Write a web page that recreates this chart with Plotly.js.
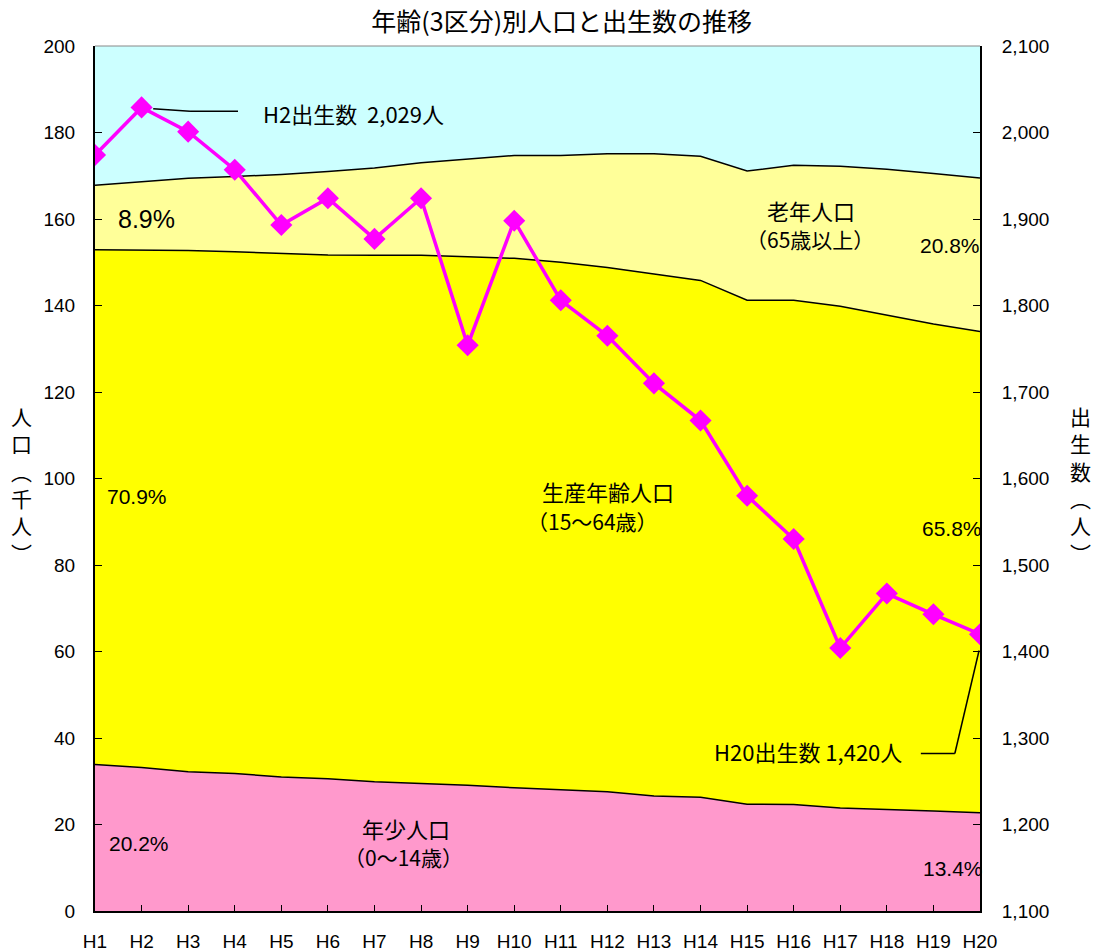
<!DOCTYPE html>
<html>
<head>
<meta charset="utf-8">
<script src="https://cdn.plot.ly/plotly-3.0.1.min.js"></script>
<style>
html,body{margin:0;padding:0;background:#fff;}
#chart{width:1095px;height:952px;}
</style>
</head>
<body>
<div id="chart"></div>
<script>
// Categories (fiscal years, Heisei)
const years = ["H1","H2","H3","H4","H5","H6","H7","H8","H9","H10","H11","H12","H13","H14","H15","H16","H17","H18","H19","H20"];
// Population (thousand persons)
const youngPop   = [33.9,33.2,32.2,31.8,31.0,30.6,29.9,29.5,29.1,28.5,28.0,27.6,26.6,26.3,24.7,24.6,23.8,23.5,23.1,22.7];
const workingPop = [119.0,119.6,120.5,120.6,121.0,121.1,121.7,122.1,122.2,122.4,122.0,121.2,120.7,119.5,116.5,116.6,116.0,114.2,112.6,111.3];
const elderlyPop = [14.9,15.8,16.7,17.4,18.3,19.3,20.2,21.4,22.6,23.8,24.7,26.3,27.8,28.7,29.9,31.2,32.4,33.8,34.8,35.5];
// Births (persons)
const births = [1974,2029,2001,1957,1893,1924,1877,1924,1754,1898,1806,1765,1710,1667,1580,1530,1404,1467,1443,1420];
// Axis ticks
const leftTicks = [0,20,40,60,80,100,120,140,160,180,200];
const rightTicks = [1100,1200,1300,1400,1500,1600,1700,1800,1900,2000,2100];

const JP = "Noto Sans CJK JP, Liberation Sans, sans-serif";
const NUM = "Liberation Sans, Noto Sans CJK JP, sans-serif";

const traces = [
  {x: years, y: youngPop, type: "scatter", mode: "lines", stackgroup: "pop",
   line: {color: "#000000", width: 1.5}, fillcolor: "#FF99CC", name: "年少人口", hoverinfo: "skip"},
  {x: years, y: workingPop, type: "scatter", mode: "lines", stackgroup: "pop",
   line: {color: "#000000", width: 1.5}, fillcolor: "#FFFF00", name: "生産年齢人口", hoverinfo: "skip"},
  {x: years, y: elderlyPop, type: "scatter", mode: "lines", stackgroup: "pop",
   line: {color: "#000000", width: 1.5}, fillcolor: "#FFFF99", name: "老年人口", hoverinfo: "skip"},
  {x: years, y: births, type: "scatter", mode: "lines+markers", yaxis: "y2",
   line: {color: "#FF00FF", width: 3.5},
   marker: {symbol: "diamond", size: 17, color: "#FF00FF"}, name: "出生数", hoverinfo: "skip"}
];

function txt(x, y, text, size, fam) {
  return {x: x, y: y, xref: "x", yref: "y", text: text, showarrow: false,
          font: {family: fam || JP, size: size || 19, color: "#000"}, xanchor: "center", yanchor: "middle"};
}

const annotations = [
  txt(15.38, 162.0, "老年人口", 22),
  txt(15.35, 155.3, "（65歳以上）", 21),
  txt(18.36, 153.9, "20.8%", 21, NUM),
  txt(11.01, 97.0, "生産年齢人口", 22),
  txt(10.67, 90.1, "（15〜64歳）", 21),
  txt(0.90, 95.8, "70.9%", 21, NUM),
  txt(18.40, 88.4, "65.8%", 21, NUM),
  txt(6.68, 19.3, "年少人口", 22),
  txt(6.63, 12.6, "（0〜14歳）", 21),
  txt(0.955, 15.6, "20.2%", 21, NUM),
  txt(18.42, 9.8, "13.4%", 21, NUM),
  txt(15.31, 36.9, "H20出生数 1,420人", 22),
  txt(1.106, 159.9, "8.9%", 25, NUM),
  txt(5.54, 184.6, "H2出生数  2,029人", 22),
  {x: -0.0825, y: 0.493, xref: "paper", yref: "paper", showarrow: false,
   text: "人<br>口<br>︵<br>千<br>人<br>︶", font: {family: JP, size: 21, color: "#000"},
   xanchor: "center", yanchor: "middle"},
  {x: 1.114, y: 0.493, xref: "paper", yref: "paper", showarrow: false,
   text: "出<br>生<br>数<br>︵<br>人<br>︶", font: {family: JP, size: 21, color: "#000"},
   xanchor: "center", yanchor: "middle"}
];

const shapes = [
  {type: "line", xref: "x", yref: "y2", x0: 1.25, y0: 2027.4, x1: 2.04, y1: 2024.6, line: {color: "#000", width: 1.5}},
  {type: "line", xref: "x", yref: "y2", x0: 2.04, y0: 2024.6, x1: 3.07, y1: 2024.6, line: {color: "#000", width: 1.5}},
  {type: "line", xref: "x", yref: "y2", x0: 17.73, y0: 1282.1, x1: 18.46, y1: 1282.1, line: {color: "#000", width: 1.5}},
  {type: "line", xref: "x", yref: "y2", x0: 18.46, y0: 1282.1, x1: 18.98, y1: 1401.2, line: {color: "#000", width: 1.5}},
  {type: "line", xref: "paper", yref: "paper", x0: 0, y0: 1, x1: 1, y1: 1, line: {color: "#888", width: 1}}
];

const layout = {
  width: 1095, height: 952,
  margin: {l: 95, r: 115, t: 46, b: 41, pad: 0},
  paper_bgcolor: "#ffffff",
  plot_bgcolor: "#CCFFFF",
  showlegend: false,
  title: {text: "年齢(3区分)別人口と出生数の推移", font: {family: JP, size: 25, color: "#000"},
          x: 0.513, xref: "container", xanchor: "center", y: 0.977, yref: "container", yanchor: "middle"},
  xaxis: {type: "category", range: [0, 19], showgrid: false, zeroline: false,
          showline: true, linecolor: "#000", linewidth: 2,
          ticks: "inside", ticklen: 6, tickcolor: "#000", tickwidth: 1,
          tickfont: {family: NUM, size: 19, color: "#000"}, ticklabelstandoff: 12,
          fixedrange: true},
  yaxis: {range: [0, 200], tickvals: leftTicks, showgrid: false, zeroline: false,
          showline: true, linecolor: "#000", linewidth: 2,
          ticks: "inside", ticklen: 7, tickcolor: "#000", tickwidth: 1,
          tickfont: {family: NUM, size: 19, color: "#000"}, ticklabelstandoff: 14},
  yaxis2: {range: [1100, 2100], tickvals: rightTicks, tickformat: ",d", overlaying: "y", side: "right",
           showgrid: false, zeroline: false,
           showline: true, linecolor: "#000", linewidth: 2,
           ticks: "inside", ticklen: 7, tickcolor: "#000", tickwidth: 1,
           tickfont: {family: NUM, size: 19, color: "#000"}, ticklabelstandoff: 16},
  annotations: annotations,
  shapes: shapes
};

Plotly.newPlot("chart", traces, layout, {staticPlot: true, displayModeBar: false});
</script>
</body>
</html>
